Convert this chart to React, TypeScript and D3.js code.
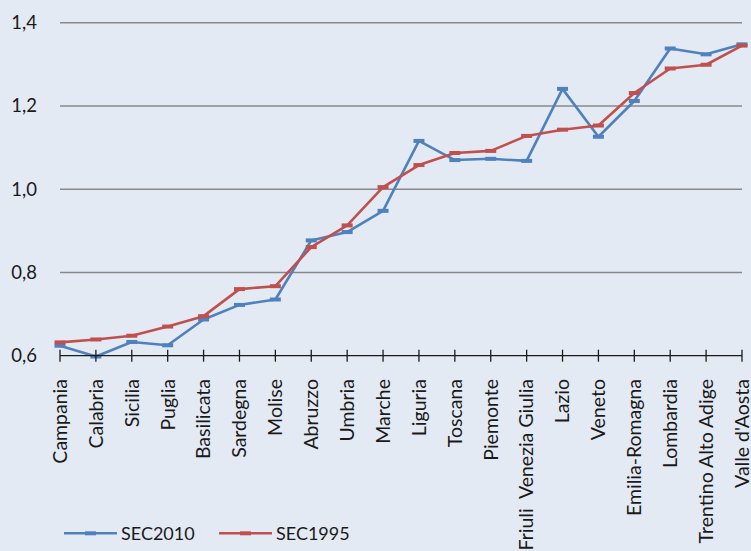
import React from "react";
import * as d3 from "d3";

const categories = [
  "Campania", "Calabria", "Sicilia", "Puglia", "Basilicata", "Sardegna", "Molise",
  "Abruzzo", "Umbria", "Marche", "Liguria", "Toscana", "Piemonte",
  "Friuli  Venezia Giulia", "Lazio", "Veneto", "Emilia-Romagna", "Lombardia",
  "Trentino Alto Adige", "Valle d'Aosta",
];
const sec2010 = [
  0.624, 0.598, 0.633, 0.625, 0.687, 0.722, 0.735, 0.877, 0.897, 0.948,
  1.116, 1.070, 1.073, 1.068, 1.241, 1.126, 1.212, 1.338, 1.324, 1.348,
];
const sec1995 = [
  0.632, 0.639, 0.648, 0.670, 0.695, 0.760, 0.767, 0.861, 0.913, 1.005,
  1.058, 1.087, 1.092, 1.128, 1.143, 1.153, 1.231, 1.290, 1.299, 1.345,
];
const yTicks = [0.6, 0.8, 1.0, 1.2, 1.4];
const seriesNames = ["SEC2010", "SEC1995"];
const seriesColors = ["#4F81BD", "#C0504D"];

const W = 751;
const H = 551;
const FONT = "Lato, 'Open Sans', sans-serif";

export default function App() {
  const x = d3.scalePoint<string>().domain(categories).range([60, 742]);
  const y = d3.scaleLinear().domain([0.6, 1.4]).range([355.7, 22.7]);
  const line = d3
    .line<number>()
    .x((_, i) => x(categories[i]) as number)
    .y((d) => y(d));
  const fmt = (v: number) => v.toFixed(1).replace(".", ",");
  const series = [sec2010, sec1995];
  const x0 = 60;
  const x1 = 742;
  const yAxis = y(0.6);

  return (
    <svg
      width={W}
      height={H}
      style={{ position: "absolute", left: 0, top: 0, display: "block" }}
      fontFamily={FONT}
    >
      <rect x={0} y={0} width={W} height={H} fill="#E4EAF4" />
      {yTicks.slice(1).map((t) => (
        <line key={t} x1={x0} x2={x1} y1={y(t)} y2={y(t)} stroke="#888888" strokeWidth={1.6} />
      ))}
      {yTicks.map((t) => (
        <text key={"l" + t} x={37} y={y(t)} dy="0.35em" textAnchor="end" fontSize={18.5} fill="#1a1a1a">
          {fmt(t)}
        </text>
      ))}
      {series.map((s, si) => (
        <g key={si}>
          <path d={line(s) || ""} fill="none" stroke={seriesColors[si]} strokeWidth={2.6} strokeLinejoin="round" />
          {s.map((v, i) => (
            <rect
              key={i}
              x={(x(categories[i]) as number) - 5.5}
              y={y(v) - 2}
              width={11}
              height={4}
              fill={seriesColors[si]}
            />
          ))}
        </g>
      ))}
      <line x1={x0} x2={x1} y1={yAxis} y2={yAxis} stroke="#1a1a1a" strokeWidth={1.3} />
      {categories.map((c) => (
        <line
          key={"t" + c}
          x1={x(c) as number}
          x2={x(c) as number}
          y1={yAxis - 6}
          y2={yAxis + 6}
          stroke="#1a1a1a"
          strokeWidth={1.3}
        />
      ))}
      {categories.map((c) => (
        <text
          key={"c" + c}
          transform={`translate(${x(c) as number},379) rotate(-90)`}
          dy="0.35em"
          textAnchor="end"
          fontSize={19.5}
          fill="#1a1a1a"
          style={{ whiteSpace: "pre" }}
        >
          {c}
        </text>
      ))}
      {seriesNames.map((n, i) => {
        const lx = 64 + i * 155;
        return (
          <g key={n}>
            <line x1={lx} x2={lx + 53} y1={533.3} y2={533.3} stroke={seriesColors[i]} strokeWidth={2.6} />
            <rect x={lx + 21} y={531.3} width={11} height={4} fill={seriesColors[i]} />
            <text x={lx + 57} y={533.3} dy="0.35em" fontSize={18} fill="#1a1a1a">
              {n}
            </text>
          </g>
        );
      })}
    </svg>
  );
}
